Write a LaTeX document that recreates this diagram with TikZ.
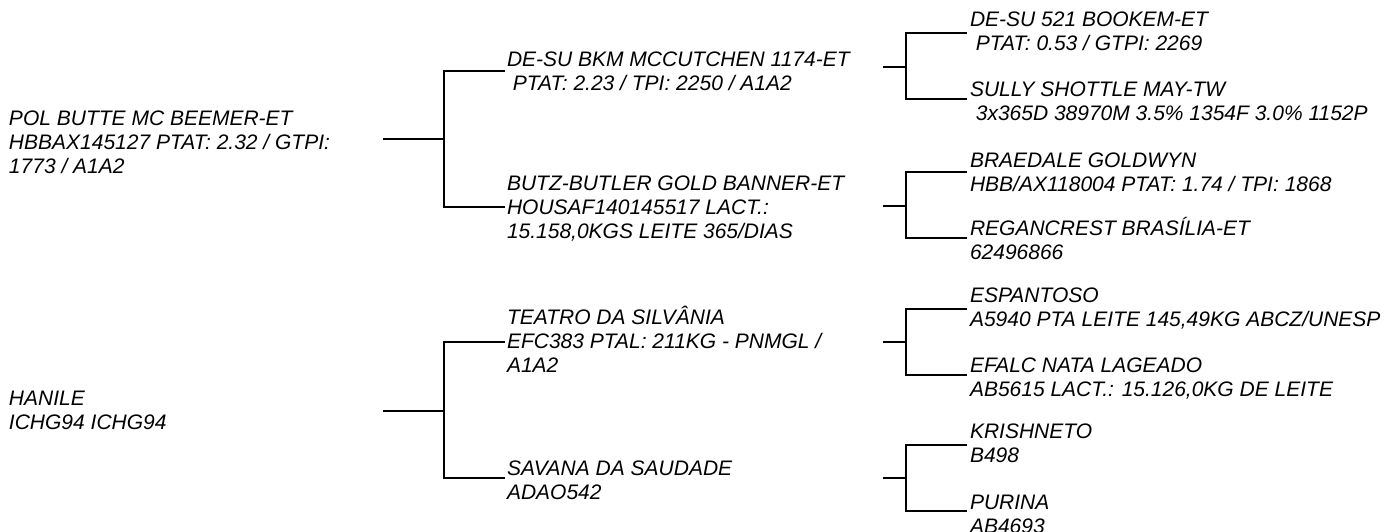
\documentclass[tikz,border=0pt]{standalone}
\usepackage{fontspec}
\setmainfont{Liberation Sans}
\begin{document}
\begin{tikzpicture}[x=1pt,y=-1pt,
  lbl/.style={anchor=base west,inner sep=0pt,outer sep=0pt,align=left,
    font=\itshape\fontsize{21}{24}\selectfont,text=black},
  bracket/.style={draw=black,line width=2.6pt,line cap=butt,line join=miter}]
\useasboundingbox (0,0) rectangle (1394,532);
% ---------- texts (anchored at the baseline of their last line) ----------
\node[lbl] (pol) at (9,173) {POL BUTTE MC BEEMER-ET\\HBBAX145127 PTAT: 2.32 / GTPI:\\1773 / A1A2};
\node[lbl] (han) at (9,429) {HANILE\\ICHG94 ICHG94};
\node[lbl] (mcc) at (507,91) {DE-SU BKM MCCUTCHEN 1174-ET\\\hspace*{0.278em}PTAT: 2.23 / TPI: 2250 / A1A2};
\node[lbl] (butz) at (507,238) {BUTZ-BUTLER GOLD BANNER-ET\\HOUSAF140145517 LACT.:\\15.158,0KGS LEITE 365/DIAS};
\node[lbl] (tea) at (507,372) {TEATRO DA SILVÂNIA\\EFC383 PTAL: 211KG - PNMGL /\\A1A2};
\node[lbl] (sav) at (507,499) {SAVANA DA SAUDADE\\ADAO542};
\node[lbl] (boo) at (970,51) {DE-SU 521 BOOKEM-ET\\\hspace*{0.278em}PTAT: 0.53 / GTPI: 2269};
\node[lbl] (sul) at (970,121) {SULLY SHOTTLE MAY-TW\\\hspace*{0.278em}3x365D 38970M 3.5\% 1354F 3.0\% 1152P};
\node[lbl] (bra) at (970,191) {BRAEDALE GOLDWYN\\HBB/AX118004 PTAT: 1.74 / TPI: 1868};
\node[lbl] (reg) at (970,259) {REGANCREST BRASÍLIA-ET\\62496866};
\node[lbl] (esp) at (970,326) {ESPANTOSO\\A5940 PTA LEITE 145,49KG ABCZ/UNESP};
\node[lbl] (efa) at (970,396) {EFALC NATA LAGEADO\\AB5615 LACT.: 15.126,0KG DE LEITE};
\node[lbl] (kri) at (970,462) {KRISHNETO\\B498};
\node[lbl] (pur) at (970,533) {PURINA\\AB4693};
% ---------- bracket points ----------
\coordinate (s1) at (383,139); \coordinate (j1) at (444,139);
\coordinate (a1) at (505,71);  \coordinate (b1) at (505,207);
\coordinate (s2) at (383,411); \coordinate (j2) at (444,411);
\coordinate (a2) at (505,342); \coordinate (b2) at (505,478);
\coordinate (s3) at (883,67);  \coordinate (j3) at (906,67);
\coordinate (a3) at (967,33);  \coordinate (b3) at (967,99);
\coordinate (s4) at (883,206); \coordinate (j4) at (906,206);
\coordinate (a4) at (967,172); \coordinate (b4) at (967,238);
\coordinate (s5) at (883,342); \coordinate (j5) at (906,342);
\coordinate (a5) at (967,309); \coordinate (b5) at (967,375);
\coordinate (s6) at (883,478); \coordinate (j6) at (906,478);
\coordinate (a6) at (967,445); \coordinate (b6) at (967,511);
% ---------- brackets ----------
\foreach \i in {1,...,6}{
  \draw[bracket] (s\i) -- (j\i);
  \draw[bracket] (a\i) -| (j\i) |- (b\i);
}
\end{tikzpicture}
\end{document}
